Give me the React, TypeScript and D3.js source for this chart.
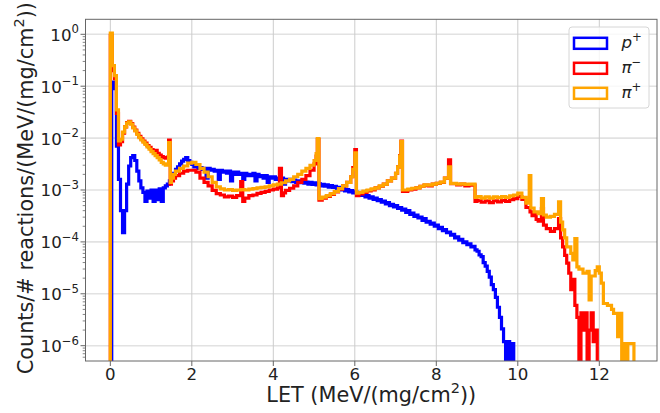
import React from 'react';
import * as d3 from 'd3';

const W = 660;
const H = 413;

const xTickValues = [0, 2, 4, 6, 8, 10, 12];
const yTickExponents = [0, -1, -2, -3, -4, -5, -6];
const seriesNames = ['p', 'π', 'π'];
const seriesCharges = ['+', '−', '+'];
const seriesColors = ['#0000ff', '#ff0000', '#ffa500'];
const xLabel = 'LET (MeV/(mg/cm';
const yLabel = 'Counts/# reactions/(MeV/(mg/cm';

// [left bin edge, counts]
const protonBins: [number, number][] = [
  [0, 0], [0.035, 0.12], [0.1, 0.09], [0.15, 0.007], [0.2, 0.0016], [0.25, 0.0004], [0.3, 0.00015],
  [0.35, 0.0004], [0.4, 0.0013], [0.45, 0.0029], [0.5, 0.0042], [0.55, 0.0046], [0.6, 0.0037],
  [0.65, 0.0023], [0.7, 0.0015], [0.75, 0.0011], [0.8, 0.0009], [0.85, 0.0006], [0.9, 0.00095],
  [0.95, 0.0007], [1.0, 0.001], [1.05, 0.0006], [1.1, 0.001], [1.15, 0.00065], [1.2, 0.00105],
  [1.25, 0.0006], [1.3, 0.0011], [1.35, 0.0012], [1.4, 0.0013], [1.45, 0.0015], [1.5, 0.0018],
  [1.55, 0.0021], [1.6, 0.0025], [1.65, 0.0028], [1.7, 0.0032], [1.75, 0.0036], [1.8, 0.0039],
  [1.85, 0.0042], [1.9, 0.0037], [1.95, 0.0034], [2.0, 0.0031], [2.05, 0.0028], [2.1, 0.0029],
  [2.15, 0.0026], [2.2, 0.0027], [2.25, 0.0025], [2.3, 0.0026], [2.35, 0.0017], [2.4, 0.0026],
  [2.45, 0.0024], [2.5, 0.0025], [2.55, 0.0023], [2.6, 0.0024], [2.65, 0.0016], [2.7, 0.0024],
  [2.75, 0.0022], [2.8, 0.0023], [2.85, 0.0021], [2.9, 0.0023], [2.95, 0.0015], [3.0, 0.0022],
  [3.05, 0.002], [3.1, 0.0022], [3.15, 0.002], [3.2, 0.0021], [3.25, 0.0016], [3.3, 0.0021],
  [3.35, 0.0019], [3.4, 0.002], [3.45, 0.0019], [3.5, 0.0021], [3.55, 0.0015], [3.6, 0.002],
  [3.65, 0.0018], [3.7, 0.0019], [3.75, 0.0017], [3.8, 0.0019], [3.85, 0.0014], [3.9, 0.0018],
  [3.95, 0.0017], [4.0, 0.0018], [4.05, 0.0016], [4.1, 0.0017], [4.15, 0.0016], [4.2, 0.0017],
  [4.25, 0.0013], [4.3, 0.0016], [4.35, 0.0015], [4.4, 0.0016], [4.45, 0.00145],
  [4.5, 0.00155], [4.55, 0.0014], [4.6, 0.0015], [4.65, 0.00138], [4.7, 0.00148], [4.75, 0.00135],
  [4.8, 0.00142], [4.85, 0.0013], [4.9, 0.0014], [4.95, 0.00128], [5.0, 0.00138], [5.05, 0.00126],
  [5.1, 0.00133], [5.15, 0.0012], [5.2, 0.00128], [5.25, 0.00118], [5.3, 0.00126], [5.35, 0.00113],
  [5.4, 0.00122], [5.45, 0.00112], [5.5, 0.00118], [5.55, 0.00106], [5.6, 0.00112], [5.65, 0.001],
  [5.7, 0.00106], [5.75, 0.00096], [5.8, 0.00102], [5.85, 0.00092], [5.9, 0.00097], [5.95, 0.00088],
  [6.0, 0.00092], [6.05, 0.00082], [6.1, 0.00087], [6.15, 0.00079], [6.2, 0.00083], [6.25, 0.00074],
  [6.3, 0.00078], [6.35, 0.0007], [6.4, 0.00074], [6.45, 0.00066], [6.5, 0.0007], [6.55, 0.00062],
  [6.6, 0.00065], [6.65, 0.00058], [6.7, 0.00061], [6.75, 0.00054], [6.8, 0.00057], [6.85, 0.0005],
  [6.9, 0.00053], [6.95, 0.00047], [7.0, 0.0005], [7.05, 0.00044], [7.1, 0.00046], [7.15, 0.00041],
  [7.2, 0.00043], [7.25, 0.00037], [7.3, 0.0004], [7.35, 0.00034], [7.4, 0.00036], [7.45, 0.00031],
  [7.5, 0.00033], [7.55, 0.00029], [7.6, 0.0003], [7.65, 0.00026], [7.7, 0.00028], [7.75, 0.00024],
  [7.8, 0.00025], [7.85, 0.00022], [7.9, 0.00023], [7.95, 0.0002], [8.0, 0.00021], [8.05, 0.00018],
  [8.1, 0.00019], [8.15, 0.000165], [8.2, 0.000172], [8.25, 0.00015], [8.3, 0.000155],
  [8.35, 0.000135], [8.4, 0.00014], [8.45, 0.00012], [8.5, 0.000125], [8.55, 0.000108],
  [8.6, 0.000112], [8.65, 0.000097], [8.7, 0.0001], [8.75, 0.000088], [8.8, 0.000092],
  [8.85, 0.00008], [8.9, 0.000082], [8.95, 0.00007], [9.0, 0.000066], [9.05, 0.000056],
  [9.1, 0.000052], [9.15, 0.00004], [9.2, 0.000034], [9.25, 0.000027], [9.3, 0.000021],
  [9.35, 0.000015], [9.4, 0.000012], [9.45, 0.0000085], [9.5, 0.0000055], [9.55, 0.0000035],
  [9.6, 0.0000021], [9.65, 0.0000012], [9.7, 0], [9.75, 0.0000012], [9.8, 0], [9.85, 0.0000011],
];
const protonEnd = 9.9;

const piMinusBins: [number, number][] = [
  [0, 0.95], [0.05, 0.2], [0.1, 0.14], [0.15, 0.03], [0.2, 0.0074], [0.25, 0.0085], [0.3, 0.0125],
  [0.35, 0.0165], [0.4, 0.0198], [0.45, 0.021], [0.5, 0.019], [0.55, 0.0162], [0.6, 0.0142],
  [0.65, 0.0124], [0.7, 0.0108], [0.75, 0.0097], [0.8, 0.0088], [0.85, 0.008], [0.9, 0.0072],
  [0.95, 0.0066], [1.0, 0.006], [1.05, 0.0056], [1.1, 0.0058], [1.15, 0.0051], [1.2, 0.0047],
  [1.25, 0.0044], [1.3, 0.0042], [1.35, 0.0041], [1.4, 0.0043], [1.43, 0.0092], [1.47, 0.0013],
  [1.5, 0.0015], [1.55, 0.0017], [1.6, 0.0019], [1.7, 0.0021], [1.8, 0.0023], [1.9, 0.0024],
  [2.0, 0.0024], [2.1, 0.0022], [2.2, 0.0017], [2.3, 0.0014], [2.4, 0.0012], [2.5, 0.00098],
  [2.6, 0.00085], [2.7, 0.0008], [2.8, 0.00074], [2.9, 0.00076], [3.0, 0.00072], [3.1, 0.00078],
  [3.2, 0.00145], [3.25, 0.0006], [3.3, 0.0007], [3.4, 0.00078], [3.5, 0.0008], [3.6, 0.00086],
  [3.7, 0.0009], [3.8, 0.00094], [3.9, 0.001], [4.0, 0.00104], [4.1, 0.0011], [4.15, 0.0026],
  [4.2, 0.00078], [4.25, 0.00088], [4.3, 0.00098], [4.4, 0.00108], [4.5, 0.0012], [4.6, 0.0014],
  [4.7, 0.0016], [4.8, 0.0019], [4.9, 0.0024], [5.0, 0.0032], [5.05, 0.0045], [5.08, 0.0095],
  [5.12, 0.00064], [5.2, 0.0007], [5.3, 0.00075], [5.4, 0.00082], [5.5, 0.00092], [5.6, 0.00104],
  [5.7, 0.0012], [5.8, 0.0014], [5.9, 0.0018], [5.95, 0.0027], [6.0, 0.006], [6.04, 0.00078],
  [6.1, 0.00084], [6.2, 0.0009], [6.3, 0.00096], [6.4, 0.001], [6.5, 0.0011], [6.6, 0.00118],
  [6.7, 0.0013], [6.8, 0.0015], [6.9, 0.0017], [7.0, 0.0021], [7.05, 0.0028], [7.1, 0.0046],
  [7.13, 0.0088], [7.17, 0.00094], [7.3, 0.001], [7.4, 0.00104], [7.5, 0.0011], [7.6, 0.00118],
  [7.7, 0.00124], [7.8, 0.0012], [7.9, 0.0013], [8.0, 0.00134], [8.1, 0.0014], [8.2, 0.0017],
  [8.3, 0.0038], [8.35, 0.00132], [8.5, 0.00125], [8.6, 0.0013], [8.7, 0.0012], [8.8, 0.00124],
  [8.95, 0.0006], [9.0, 0.00063], [9.1, 0.00058], [9.2, 0.00062], [9.3, 0.00057], [9.4, 0.00062],
  [9.5, 0.00059], [9.6, 0.00063], [9.7, 0.0006], [9.8, 0.00065], [9.9, 0.00068], [10.0, 0.00075],
  [10.1, 0.00066], [10.2, 0.00046], [10.3, 0.00038], [10.35, 0.00032], [10.4, 0.00034],
  [10.45, 0.00027], [10.5, 0.00025], [10.58, 0.00044], [10.63, 0.00021], [10.7, 0.00018],
  [10.8, 0.00016], [10.9, 0.00018], [11.0, 0.00028], [11.05, 0.00012], [11.1, 0.00008],
  [11.15, 0.000055], [11.2, 0.000039], [11.25, 0.000025], [11.3, 0.000012], [11.35, 0.000019],
  [11.4, 0.000006], [11.45, 0.0000035], [11.5, 0], [11.55, 0.0000043], [11.6, 0.000002],
  [11.65, 0.0000043], [11.7, 0], [11.75, 0.000002], [11.8, 0.0000043], [11.85, 0.0000012],
  [11.9, 0.000002], [11.95, 0],
];
const piMinusEnd = 12.0;

const piPlusBins: [number, number][] = [
  [0, 1.05], [0.05, 0.25], [0.1, 0.16], [0.15, 0.035], [0.2, 0.0088], [0.25, 0.0095], [0.3, 0.013],
  [0.35, 0.0165], [0.4, 0.0195], [0.45, 0.0205], [0.5, 0.0185], [0.55, 0.0158], [0.6, 0.0138],
  [0.65, 0.0118], [0.7, 0.0102], [0.75, 0.0092], [0.8, 0.0084], [0.85, 0.0076], [0.9, 0.0068],
  [0.95, 0.0061], [1.0, 0.0055], [1.05, 0.005], [1.1, 0.0046], [1.15, 0.0042], [1.2, 0.0038],
  [1.25, 0.0034], [1.3, 0.0032], [1.35, 0.003], [1.4, 0.0031], [1.43, 0.0082], [1.47, 0.0014],
  [1.5, 0.0017], [1.55, 0.002], [1.6, 0.0023], [1.7, 0.0026], [1.8, 0.0029], [1.9, 0.0033],
  [2.0, 0.0034], [2.1, 0.0031], [2.2, 0.0026], [2.3, 0.0022], [2.4, 0.0018], [2.5, 0.0014],
  [2.6, 0.00115], [2.7, 0.00105], [2.8, 0.001], [2.9, 0.00102], [3.0, 0.00098], [3.1, 0.001],
  [3.2, 0.00102], [3.3, 0.001], [3.4, 0.00104], [3.5, 0.00106], [3.6, 0.0011], [3.7, 0.00112],
  [3.8, 0.00115], [3.9, 0.0012], [4.0, 0.00125], [4.1, 0.0013], [4.2, 0.00138], [4.3, 0.0015],
  [4.4, 0.0016], [4.5, 0.0018], [4.6, 0.002], [4.7, 0.0023], [4.8, 0.0026], [4.9, 0.003],
  [5.0, 0.0037], [5.05, 0.005], [5.08, 0.0098], [5.12, 0.00068], [5.2, 0.00073], [5.3, 0.00078],
  [5.4, 0.00085], [5.5, 0.00094], [5.6, 0.00106], [5.7, 0.0012], [5.8, 0.0014], [5.9, 0.0018],
  [5.95, 0.0025], [6.0, 0.0052], [6.04, 0.00087], [6.1, 0.0009], [6.2, 0.00095], [6.3, 0.001],
  [6.4, 0.00105], [6.5, 0.0011], [6.6, 0.0012], [6.7, 0.0013], [6.8, 0.0015], [6.9, 0.0017],
  [7.0, 0.0021], [7.05, 0.0028], [7.1, 0.0045], [7.13, 0.0086], [7.17, 0.001], [7.3, 0.00104],
  [7.4, 0.00108], [7.5, 0.0011], [7.6, 0.00118], [7.7, 0.00126], [7.8, 0.00124], [7.9, 0.0013],
  [8.0, 0.00135], [8.1, 0.00142], [8.2, 0.0017], [8.3, 0.0028], [8.35, 0.00134], [8.5, 0.0013],
  [8.6, 0.00132], [8.7, 0.00128], [8.8, 0.0013], [8.95, 0.00072], [9.0, 0.00075], [9.1, 0.0007],
  [9.2, 0.00074], [9.3, 0.0007], [9.4, 0.00074], [9.5, 0.00071], [9.6, 0.00075], [9.7, 0.00072],
  [9.8, 0.00077], [9.9, 0.0008], [10.0, 0.00087], [10.1, 0.00072], [10.2, 0.00056], [10.28, 0.0019],
  [10.32, 0.00045], [10.4, 0.00038], [10.5, 0.00035], [10.58, 0.00068], [10.63, 0.00033],
  [10.7, 0.0003], [10.8, 0.00031], [10.9, 0.00034], [11.0, 0.00059], [11.05, 0.00024],
  [11.1, 0.00017], [11.15, 0.00012], [11.2, 0.00008], [11.3, 0.00006], [11.35, 0.000045],
  [11.4, 0.000116], [11.45, 0.000033], [11.5, 0.00003], [11.6, 0.000025], [11.7, 0.000027],
  [11.75, 0.0000076], [11.8, 0.000022], [11.9, 0.000028], [11.95, 0.000033], [12.0, 0.000025],
  [12.05, 0.000016], [12.1, 0.0000065], [12.2, 0.000006], [12.3, 0.000005], [12.35, 0.0000042],
  [12.45, 0.0000015], [12.5, 0.0000042], [12.55, 0], [12.6, 0.0000011], [12.65, 0],
  [12.7, 0.0000011],
];
const piPlusEnd = 12.85;

const seriesBins = [protonBins, piMinusBins, piPlusBins];
const seriesEnds = [protonEnd, piMinusEnd, piPlusEnd];

export default function App() {
  const left = 85.5, right = 657, top = 19.3, bottom = 361;
  const x = d3.scaleLinear().domain([-0.609, 13.416]).range([left, right]);
  const y = d3.scaleLog().domain([Math.pow(10, -6.295), Math.pow(10, 0.289)]).range([bottom, top]);
  const base = bottom + 20;

  const line = d3
    .line<[number, number]>()
    .x((d) => x(d[0]))
    .y((d) => (d[1] > 0 ? y(d[1]) : base))
    .curve(d3.curveStepAfter);

  const paths = seriesBins.map((bins, i) => {
    const end = seriesEnds[i];
    const pts: [number, number][] = [[bins[0][0], 0], ...bins, [end, bins[bins.length - 1][1]], [end, 0]];
    return line(pts) || '';
  });

  const minorTicks: number[] = [];
  for (let e = -7; e <= 0; e++) {
    for (let m = 2; m <= 9; m++) {
      const v = m * Math.pow(10, e);
      if (y(v) <= bottom && y(v) >= top) minorTicks.push(v);
    }
  }

  const font = 'DejaVu Sans, sans-serif';
  const tickFs = 16.67;
  const labelFs = 20.8;
  const legX = 569, legY = 27, legW = 80, legH = 81;

  return (
    <svg width={W} height={H} style={{ position: 'absolute', left: 0, top: 0 }} fontFamily={font}>
      <rect x={0} y={0} width={W} height={H} fill="#ffffff" />
      <defs>
        <clipPath id="plotClip">
          <rect x={left} y={top} width={right - left} height={bottom - top} />
        </clipPath>
      </defs>
      {yTickExponents.map((e) => (
        <line key={'gy' + e} x1={left} x2={right} y1={y(Math.pow(10, e))} y2={y(Math.pow(10, e))} stroke="#e2e2e2" strokeWidth={1.6} />
      ))}
      {xTickValues.map((t) => (
        <line key={'gx' + t} x1={x(t)} x2={x(t)} y1={top} y2={bottom} stroke="#cccccc" strokeWidth={1} />
      ))}
      <g clipPath="url(#plotClip)">
        {paths.map((d, i) => (
          <path key={'s' + i} d={d} fill="none" stroke={seriesColors[i]} strokeWidth={3.2} strokeLinejoin="miter" />
        ))}
      </g>
      <rect x={left} y={top} width={right - left} height={bottom - top} fill="none" stroke="#666666" strokeWidth={1} />
      {xTickValues.map((t) => (
        <g key={'xt' + t}>
          <line x1={x(t)} x2={x(t)} y1={bottom} y2={bottom + 5} stroke="#666666" strokeWidth={1} />
          <text x={x(t)} y={bottom + 18.5} textAnchor="middle" fontSize={tickFs} fill="#222">
            {t}
          </text>
        </g>
      ))}
      {yTickExponents.map((e) => (
        <g key={'yt' + e}>
          <line x1={left - 5} x2={left} y1={y(Math.pow(10, e))} y2={y(Math.pow(10, e))} stroke="#666666" strokeWidth={1} />
          <text x={79} y={y(Math.pow(10, e)) + 6.5} textAnchor="end" fontSize={tickFs} fill="#222">
            10
            <tspan dy={-7.5} fontSize={11.7}>
              {e < 0 ? '−' + Math.abs(e) : String(e)}
            </tspan>
          </text>
        </g>
      ))}
      {minorTicks.map((v, i) => (
        <line key={'mt' + i} x1={left - 2.8} x2={left} y1={y(v)} y2={y(v)} stroke="#666666" strokeWidth={0.8} />
      ))}
      <text x={(left + right) / 2} y={402} textAnchor="middle" fontSize={labelFs} fill="#222">
        {xLabel}
        <tspan dy={-9} fontSize={14.5}>2</tspan>
        <tspan dy={9}>))</tspan>
      </text>
      <text transform={`translate(33,${(top + bottom) / 2 - 2}) rotate(-90)`} textAnchor="middle" fontSize={labelFs} fill="#222">
        {yLabel}
        <tspan dy={-9} fontSize={14.5}>2</tspan>
        <tspan dy={9}>))</tspan>
      </text>
      <rect x={legX} y={legY} width={legW} height={legH} rx={3} fill="#ffffff" fillOpacity={0.8} stroke="#d6d6d6" strokeWidth={1} />
      {seriesNames.map((n, i) => {
        const cy = 43.3 + i * 25;
        return (
          <g key={'lg' + i}>
            <rect x={574} y={cy - 5.5} width={33} height={11} fill="none" stroke={seriesColors[i]} strokeWidth={2.5} />
            <text x={621.5} y={cy + 5} fontSize={tickFs} fill="#222">
              <tspan fontStyle="italic">{n}</tspan>
              <tspan dy={-7} fontSize={11.7}>{seriesCharges[i]}</tspan>
            </text>
          </g>
        );
      })}
    </svg>
  );
}
